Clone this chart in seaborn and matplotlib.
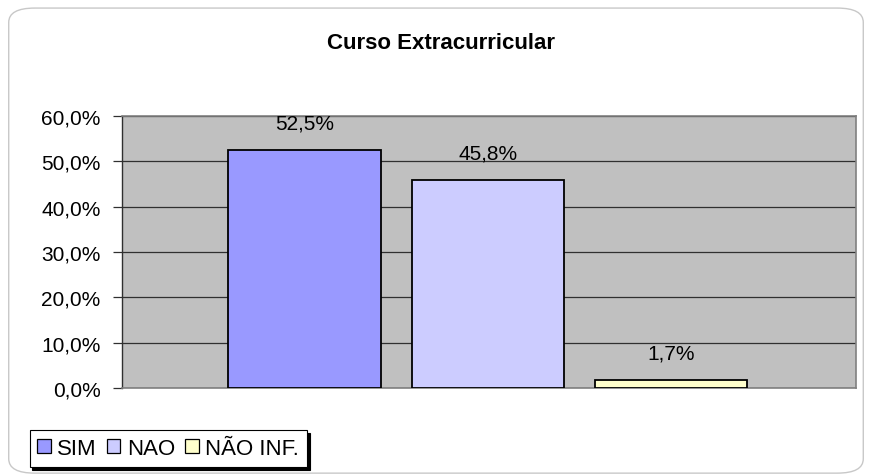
import matplotlib
matplotlib.use("Agg")
import matplotlib.pyplot as plt
import seaborn as sns
from matplotlib.patches import FancyBboxPatch, Patch
from matplotlib.ticker import FuncFormatter, MultipleLocator

# dados
categorias = ['SIM', 'NAO', 'NÃO INF.']
valores = [52.5, 45.8, 1.7]
cores = ['#9999FF', '#CCCCFF', '#FFFFCC']

sns.set_style("white")
plt.rcParams['font.family'] = ['Liberation Sans', 'DejaVu Sans']
plt.rcParams['text.color'] = 'black'
plt.rcParams['ytick.labelcolor'] = 'black'

fig = plt.figure(figsize=(8.72, 4.77), dpi=100)
ax = fig.add_axes([0.140, 0.1845, 0.842, 0.570])
ax.set_facecolor('#C0C0C0')

sns.barplot(x=categorias, y=valores, hue=categorias, palette=cores,
            edgecolor='black', linewidth=1.3, width=0.83, legend=False,
            saturation=1, ax=ax, zorder=3)

ax.set_ylim(0, 60)
ax.set_xlim(-0.995, 3.01)
ax.yaxis.set_major_locator(MultipleLocator(10))
ax.yaxis.set_major_formatter(FuncFormatter(lambda v, p: f"{v:.1f}%".replace('.', ',')))
ax.grid(axis='y', color='#303030', linewidth=0.9, zorder=0)
ax.set_axisbelow(True)
ax.set_xticks([])
ax.tick_params(axis='y', left=True, length=6.5, width=0.9, color='#303030',
               labelsize=15, pad=9, labelcolor='black')
for s in ['top', 'right', 'bottom']:
    ax.spines[s].set_color('#808080')
    ax.spines[s].set_linewidth(1.2)
ax.spines['left'].set_color('#303030')
ax.spines['left'].set_linewidth(1.0)

# rotulos
for cont in ax.containers:
    for bar in cont:
        h = bar.get_height()
        ax.annotate(f"{h:.1f}%".replace('.', ','),
                    (bar.get_x() + bar.get_width() / 2, h),
                    xytext=(0, 13), textcoords='offset points',
                    ha='center', va='bottom', fontsize=15, color='black')

fig.suptitle('Curso Extracurricular', x=0.506, y=0.93, fontsize=16,
             fontweight='bold', color='black')

handles = [Patch(facecolor=c, edgecolor='black', linewidth=0.9) for c in cores]
leg = fig.legend(handles, categorias, loc='lower left',
                 bbox_to_anchor=(0.034, 0.019), ncol=3, fontsize=16,
                 frameon=True, fancybox=False, shadow={'color': 'black', 'alpha': 1},
                 handlelength=0.6, handleheight=0.6, handletextpad=0.3,
                 columnspacing=0.45, borderpad=0.35, borderaxespad=0)
leg.get_frame().set_edgecolor('black')
leg.get_frame().set_linewidth(0.8)

# moldura arredondada
borda = FancyBboxPatch((0.01, 0.006), 0.98, 0.975,
                       boxstyle="round,pad=0,rounding_size=0.03",
                       transform=fig.transFigure, facecolor='none',
                       edgecolor='#C8C8C8', linewidth=1.0)
fig.patches.append(borda)

fig.savefig('out.png', dpi=100)
